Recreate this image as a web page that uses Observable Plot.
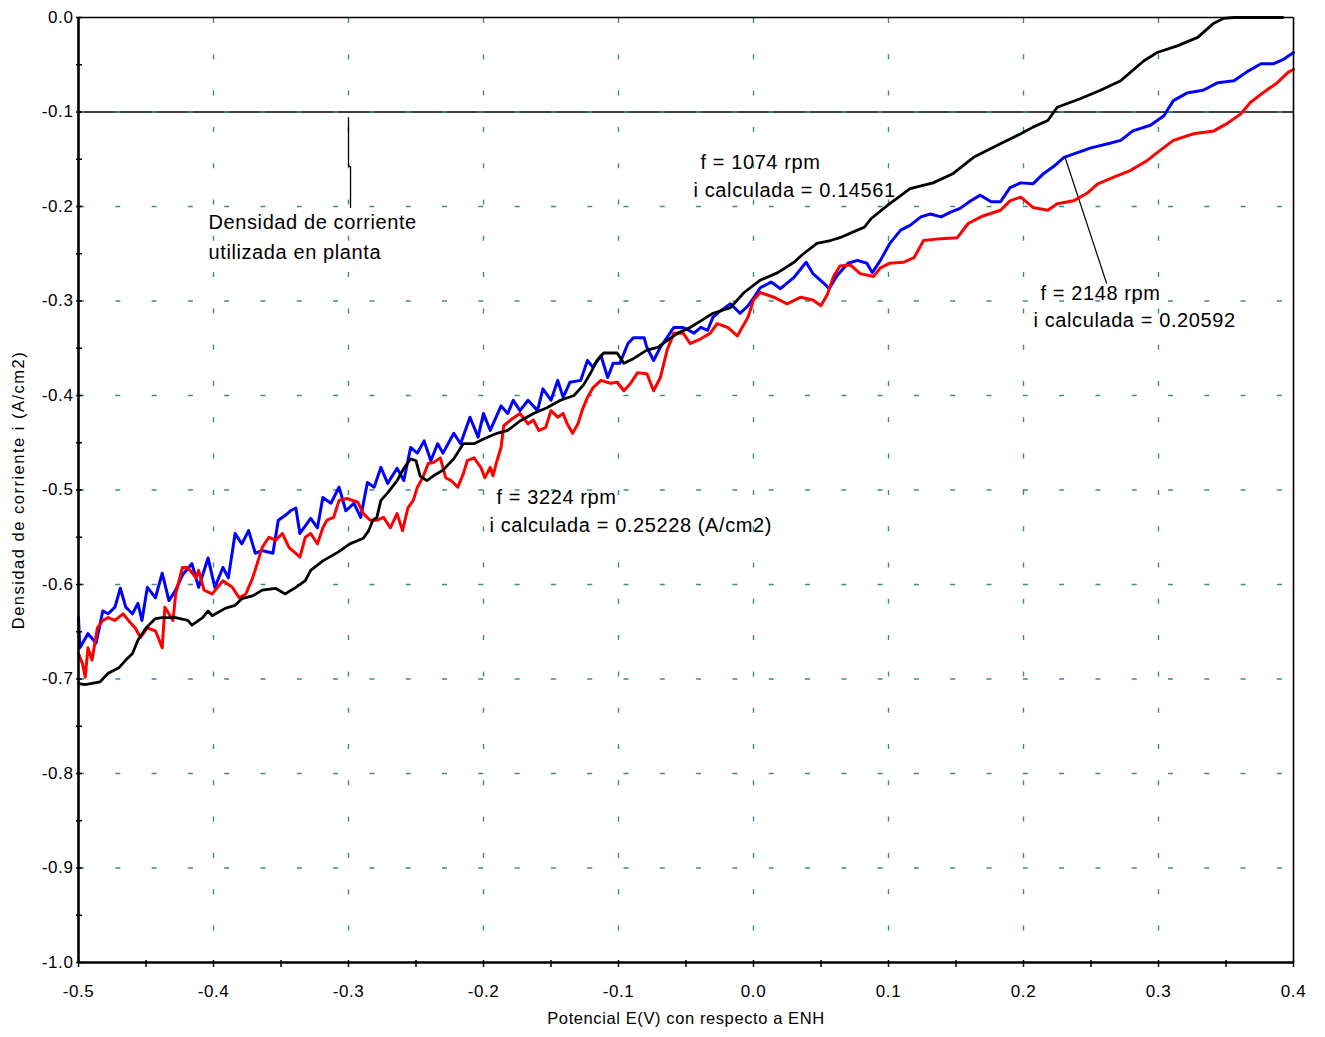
<!DOCTYPE html>
<html>
<head>
<meta charset="utf-8">
<script src="https://cdn.jsdelivr.net/npm/d3@7"></script>
<script src="https://cdn.jsdelivr.net/npm/@observablehq/plot@0.6"></script>
<style>
  html, body { margin: 0; padding: 0; background: #fff; }
  #chart svg { display: block; }
</style>
</head>
<body>
<div id="chart"></div>
<script>
// Current density i (A/cm2) vs potential E (V vs ENH) at three rotation speeds.
// Each series is a list of [E, i] pairs.
const curve1074 = [[-0.500,-0.705],[-0.495,-0.706],[-0.484,-0.703],[-0.478,-0.694],[-0.470,-0.688],[-0.465,-0.680],[-0.460,-0.673],[-0.456,-0.659],[-0.450,-0.646],[-0.443,-0.636],[-0.438,-0.635],[-0.428,-0.635],[-0.419,-0.638],[-0.416,-0.643],[-0.408,-0.635],[-0.404,-0.628],[-0.401,-0.633],[-0.391,-0.625],[-0.384,-0.622],[-0.379,-0.615],[-0.371,-0.612],[-0.364,-0.606],[-0.354,-0.604],[-0.347,-0.610],[-0.339,-0.603],[-0.332,-0.596],[-0.328,-0.585],[-0.319,-0.575],[-0.308,-0.566],[-0.299,-0.557],[-0.289,-0.551],[-0.285,-0.543],[-0.282,-0.532],[-0.279,-0.529],[-0.276,-0.511],[-0.271,-0.503],[-0.264,-0.490],[-0.259,-0.477],[-0.254,-0.467],[-0.250,-0.469],[-0.247,-0.485],[-0.242,-0.490],[-0.237,-0.485],[-0.230,-0.479],[-0.222,-0.467],[-0.215,-0.451],[-0.207,-0.451],[-0.200,-0.446],[-0.190,-0.440],[-0.182,-0.437],[-0.173,-0.427],[-0.163,-0.419],[-0.153,-0.413],[-0.143,-0.405],[-0.133,-0.400],[-0.126,-0.389],[-0.121,-0.377],[-0.116,-0.363],[-0.111,-0.355],[-0.101,-0.355],[-0.096,-0.366],[-0.089,-0.361],[-0.079,-0.352],[-0.071,-0.349],[-0.064,-0.342],[-0.056,-0.334],[-0.047,-0.328],[-0.039,-0.321],[-0.030,-0.313],[-0.017,-0.307],[-0.007,-0.291],[0.005,-0.278],[0.018,-0.270],[0.030,-0.259],[0.037,-0.250],[0.047,-0.239],[0.057,-0.236],[0.064,-0.233],[0.077,-0.225],[0.082,-0.222],[0.087,-0.213],[0.099,-0.199],[0.116,-0.181],[0.133,-0.175],[0.148,-0.165],[0.163,-0.148],[0.181,-0.135],[0.198,-0.123],[0.207,-0.116],[0.218,-0.109],[0.225,-0.095],[0.242,-0.086],[0.257,-0.077],[0.272,-0.067],[0.289,-0.046],[0.299,-0.037],[0.314,-0.030],[0.329,-0.021],[0.341,-0.006],[0.348,-0.001],[0.356,0],[0.392,0]];

const curve2148 = [[-0.500,-0.635],[-0.499,-0.667],[-0.493,-0.652],[-0.487,-0.662],[-0.482,-0.628],[-0.478,-0.631],[-0.473,-0.624],[-0.469,-0.604],[-0.465,-0.624],[-0.460,-0.631],[-0.456,-0.620],[-0.453,-0.638],[-0.449,-0.603],[-0.443,-0.614],[-0.438,-0.588],[-0.433,-0.617],[-0.428,-0.606],[-0.423,-0.590],[-0.416,-0.578],[-0.411,-0.603],[-0.404,-0.572],[-0.399,-0.603],[-0.393,-0.582],[-0.389,-0.593],[-0.384,-0.546],[-0.379,-0.557],[-0.374,-0.543],[-0.369,-0.567],[-0.364,-0.564],[-0.356,-0.567],[-0.352,-0.532],[-0.347,-0.527],[-0.343,-0.522],[-0.339,-0.519],[-0.336,-0.546],[-0.328,-0.530],[-0.323,-0.540],[-0.319,-0.508],[-0.313,-0.514],[-0.307,-0.497],[-0.302,-0.522],[-0.296,-0.514],[-0.291,-0.529],[-0.286,-0.492],[-0.281,-0.497],[-0.276,-0.476],[-0.271,-0.493],[-0.264,-0.477],[-0.259,-0.490],[-0.254,-0.455],[-0.249,-0.461],[-0.244,-0.448],[-0.239,-0.469],[-0.234,-0.451],[-0.230,-0.461],[-0.222,-0.440],[-0.217,-0.451],[-0.210,-0.423],[-0.204,-0.444],[-0.200,-0.419],[-0.195,-0.437],[-0.187,-0.411],[-0.182,-0.419],[-0.178,-0.405],[-0.173,-0.416],[-0.167,-0.405],[-0.160,-0.416],[-0.156,-0.393],[-0.150,-0.405],[-0.145,-0.384],[-0.141,-0.402],[-0.136,-0.386],[-0.128,-0.384],[-0.123,-0.363],[-0.119,-0.370],[-0.113,-0.358],[-0.108,-0.381],[-0.104,-0.366],[-0.099,-0.366],[-0.093,-0.345],[-0.089,-0.339],[-0.081,-0.339],[-0.079,-0.349],[-0.074,-0.363],[-0.069,-0.349],[-0.059,-0.328],[-0.052,-0.328],[-0.044,-0.334],[-0.039,-0.328],[-0.034,-0.331],[-0.030,-0.317],[-0.024,-0.310],[-0.017,-0.303],[-0.010,-0.313],[-0.004,-0.305],[0.000,-0.297],[0.005,-0.286],[0.013,-0.280],[0.020,-0.287],[0.030,-0.275],[0.039,-0.259],[0.044,-0.271],[0.052,-0.281],[0.056,-0.287],[0.062,-0.273],[0.070,-0.260],[0.077,-0.257],[0.084,-0.260],[0.088,-0.270],[0.094,-0.257],[0.101,-0.239],[0.109,-0.225],[0.116,-0.220],[0.124,-0.211],[0.131,-0.208],[0.139,-0.211],[0.146,-0.206],[0.153,-0.202],[0.161,-0.194],[0.168,-0.188],[0.176,-0.195],[0.183,-0.195],[0.190,-0.180],[0.198,-0.175],[0.207,-0.176],[0.215,-0.165],[0.222,-0.158],[0.230,-0.148],[0.240,-0.143],[0.250,-0.138],[0.264,-0.133],[0.272,-0.130],[0.281,-0.120],[0.294,-0.114],[0.304,-0.104],[0.311,-0.088],[0.321,-0.080],[0.333,-0.077],[0.344,-0.069],[0.356,-0.067],[0.366,-0.057],[0.376,-0.049],[0.385,-0.049],[0.393,-0.044],[0.400,-0.037]];

const curve3224 = [[-0.500,-0.673],[-0.497,-0.684],[-0.495,-0.698],[-0.493,-0.667],[-0.490,-0.680],[-0.486,-0.646],[-0.482,-0.638],[-0.478,-0.635],[-0.473,-0.638],[-0.467,-0.631],[-0.463,-0.638],[-0.458,-0.646],[-0.454,-0.656],[-0.449,-0.646],[-0.443,-0.649],[-0.438,-0.667],[-0.436,-0.624],[-0.430,-0.638],[-0.428,-0.610],[-0.423,-0.582],[-0.419,-0.582],[-0.413,-0.593],[-0.411,-0.585],[-0.407,-0.606],[-0.401,-0.610],[-0.393,-0.596],[-0.386,-0.603],[-0.381,-0.614],[-0.376,-0.610],[-0.371,-0.593],[-0.367,-0.575],[-0.364,-0.561],[-0.359,-0.550],[-0.354,-0.553],[-0.349,-0.546],[-0.344,-0.561],[-0.339,-0.567],[-0.336,-0.571],[-0.332,-0.550],[-0.328,-0.546],[-0.323,-0.557],[-0.319,-0.540],[-0.316,-0.532],[-0.311,-0.529],[-0.307,-0.511],[-0.301,-0.509],[-0.293,-0.513],[-0.289,-0.525],[-0.284,-0.532],[-0.279,-0.532],[-0.274,-0.529],[-0.269,-0.540],[-0.264,-0.525],[-0.260,-0.543],[-0.256,-0.519],[-0.252,-0.511],[-0.249,-0.497],[-0.245,-0.487],[-0.241,-0.472],[-0.237,-0.471],[-0.232,-0.466],[-0.228,-0.487],[-0.224,-0.490],[-0.219,-0.497],[-0.215,-0.483],[-0.212,-0.469],[-0.207,-0.466],[-0.202,-0.476],[-0.199,-0.487],[-0.195,-0.476],[-0.193,-0.485],[-0.190,-0.469],[-0.187,-0.455],[-0.185,-0.432],[-0.180,-0.426],[-0.173,-0.419],[-0.167,-0.430],[-0.163,-0.426],[-0.159,-0.437],[-0.154,-0.434],[-0.150,-0.416],[-0.145,-0.423],[-0.141,-0.419],[-0.138,-0.430],[-0.134,-0.440],[-0.130,-0.430],[-0.127,-0.416],[-0.123,-0.402],[-0.119,-0.392],[-0.113,-0.384],[-0.106,-0.387],[-0.101,-0.386],[-0.096,-0.395],[-0.091,-0.387],[-0.086,-0.376],[-0.079,-0.377],[-0.074,-0.395],[-0.069,-0.381],[-0.064,-0.352],[-0.059,-0.334],[-0.052,-0.334],[-0.047,-0.345],[-0.039,-0.340],[-0.032,-0.334],[-0.027,-0.324],[-0.019,-0.328],[-0.012,-0.337],[-0.004,-0.317],[0.000,-0.299],[0.005,-0.291],[0.015,-0.296],[0.025,-0.303],[0.035,-0.296],[0.044,-0.299],[0.050,-0.305],[0.055,-0.292],[0.059,-0.275],[0.064,-0.263],[0.072,-0.262],[0.079,-0.271],[0.089,-0.274],[0.094,-0.265],[0.101,-0.260],[0.111,-0.259],[0.119,-0.254],[0.126,-0.236],[0.139,-0.234],[0.151,-0.233],[0.159,-0.218],[0.170,-0.210],[0.183,-0.204],[0.190,-0.194],[0.198,-0.190],[0.207,-0.201],[0.218,-0.204],[0.225,-0.197],[0.237,-0.194],[0.247,-0.186],[0.255,-0.176],[0.267,-0.169],[0.279,-0.162],[0.292,-0.151],[0.299,-0.143],[0.311,-0.130],[0.326,-0.123],[0.341,-0.120],[0.351,-0.112],[0.361,-0.102],[0.368,-0.090],[0.378,-0.079],[0.388,-0.069],[0.396,-0.058],[0.400,-0.055]];

// Current density used in the plant
const plantDensity = -0.1;

// Leader lines for the annotations
const plantLeader = [[-0.3,-0.106],[-0.3,-0.157],[-0.2985,-0.158],[-0.2985,-0.201]];
const rpmLeader = [[0.231,-0.149],[0.2615,-0.281]];

// Annotation texts and their anchor points (E, i)
const noteText = [
  "Densidad de corriente", "utilizada en planta",
  "f = 1074 rpm", "i calculada = 0.14561",
  "f = 2148 rpm", "i calculada = 0.20592",
  "f = 3224 rpm", "i calculada = 0.25228 (A/cm2)"
];
const noteE = [-0.4037, -0.4037, -0.0393, -0.0444, 0.2126, 0.2074, -0.1904, -0.1956];
const noteI = [-0.2169, -0.2487, -0.1534, -0.1831, -0.2921, -0.3206, -0.5079, -0.5376];

// Axis ticks
const xTicks = d3.range(-5, 5).map(k => k / 10);
const yTicks = d3.range(-10, 1).map(k => k / 10);
const xMinor = d3.range(-10, 9).map(k => k / 20);
const yMinor = d3.range(-20, 1).map(k => k / 20);
const xGrid = xTicks.slice(1, -1);
const yGrid = yTicks.slice(1, -1);

const xTitle = "Potencial E(V) con respecto a ENH";
const yTitle = "Densidad de corriente i (A/cm2)";

const GRID = "#3f8a8a";
const fmt = d => d.toFixed(1);
const E = d => d[0], I = d => d[1];

const chart = Plot.plot({
  width: 1325,
  height: 1037,
  marginLeft: 78,
  marginRight: 32,
  marginTop: 17,
  marginBottom: 75,
  style: {fontFamily: "'Liberation Sans', Arial, sans-serif", background: "#fff", color: "#000"},
  x: {domain: [-0.5, 0.4]},
  y: {domain: [-1, 0]},
  marks: [
    // plant current density reference, under the grid
    Plot.ruleY([plantDensity], {stroke: "#000", strokeWidth: 1.4}),
    // dashed grid
    Plot.ruleX(xGrid, {stroke: GRID, strokeWidth: 1.4, strokeDasharray: "5 31.3", strokeDashoffset: -1}),
    Plot.ruleY(yGrid, {stroke: GRID, strokeWidth: 1.4, strokeDasharray: "5 31.3", strokeDashoffset: -1}),
    // leader lines
    Plot.line(plantLeader, {x: E, y: I, stroke: "#000", strokeWidth: 1.3}),
    Plot.line(rpmLeader, {x: E, y: I, stroke: "#000", strokeWidth: 1.2}),
    // curves
    Plot.line(curve2148, {x: E, y: I, stroke: "#0000ff", strokeWidth: 3}),
    Plot.line(curve3224, {x: E, y: I, stroke: "#ff0000", strokeWidth: 3}),
    Plot.line(curve1074, {x: E, y: I, stroke: "#000", strokeWidth: 2.8}),
    // frame
    Plot.ruleX([0.4], {stroke: "#000", strokeWidth: 1.6}),
    Plot.ruleY([0], {stroke: "#000", strokeWidth: 1.6}),
    Plot.ruleX([-0.5], {stroke: "#000", strokeWidth: 2.6}),
    Plot.ruleY([-1], {stroke: "#000", strokeWidth: 2.6}),
    // ticks crossing the axes
    Plot.axisX({ticks: xMinor, tickSize: 7, dy: -2, tickFormat: () => "", label: null, strokeWidth: 1.5}),
    Plot.axisY({ticks: yMinor, tickSize: 6, dx: 4, tickFormat: () => "", label: null, strokeWidth: 1.5}),
    // tick labels
    Plot.axisX({ticks: xTicks, tickSize: 0, tickPadding: 22, tickFormat: fmt, label: null, fontSize: 17}),
    Plot.axisY({ticks: yTicks, tickSize: 0, tickPadding: 5, tickFormat: fmt, label: null, fontSize: 17}),
    // axis titles
    Plot.text([xTitle], {frameAnchor: "bottom", dy: 61, fontSize: 16.5}),
    Plot.text([yTitle], {frameAnchor: "left", textAnchor: "middle", dx: -60, rotate: -90, fontSize: 16.5}),
    // annotations
    Plot.text(d3.range(noteText.length), {
      x: k => noteE[k], y: k => noteI[k], text: k => noteText[k],
      textAnchor: "start", lineAnchor: "middle", fontSize: 20
    })
  ]
});

const svg = d3.select(chart);
svg.selectAll("text").style("letter-spacing", "0.6px");
svg.selectAll("text").filter(function () { return this.textContent === yTitle; })
  .style("letter-spacing", "1.5px");
document.getElementById("chart").appendChild(chart);
</script>
</body>
</html>
